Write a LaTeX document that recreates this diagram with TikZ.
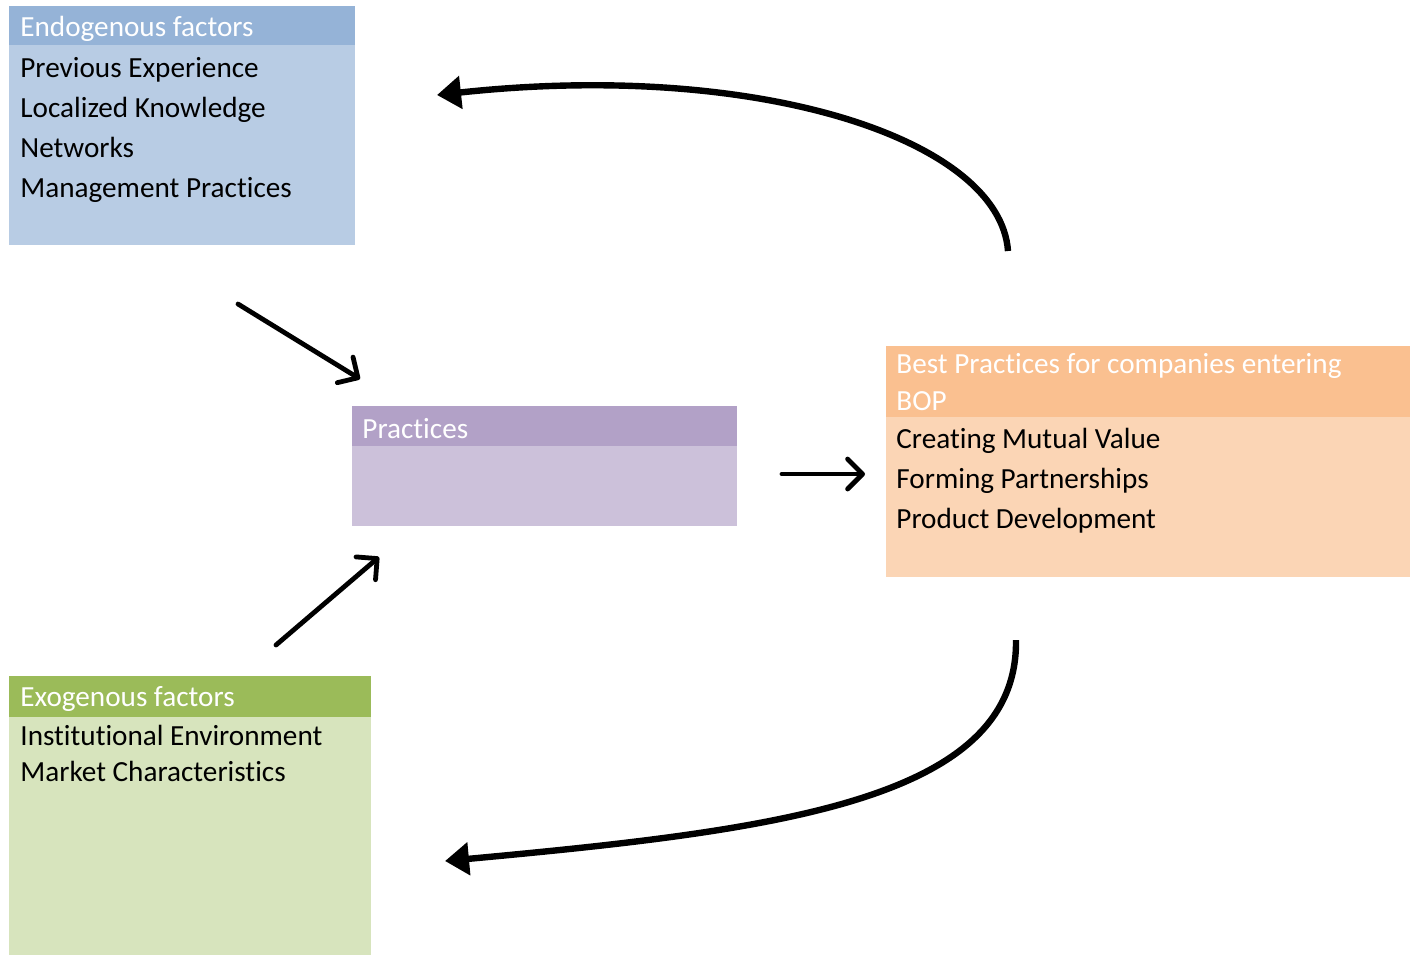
\documentclass[tikz,border=0pt]{standalone}
\usepackage{fontspec}
\setmainfont{Carlito}[Ligatures={NoCommon}]
\usetikzlibrary{arrows.meta}
\definecolor{bluehd}{HTML}{95B3D7}
\definecolor{bluebd}{HTML}{B8CCE4}
\definecolor{purphd}{HTML}{B2A1C7}
\definecolor{purpbd}{HTML}{CCC1DA}
\definecolor{oranhd}{HTML}{FAC090}
\definecolor{oranbd}{HTML}{FBD5B5}
\definecolor{greenhd}{HTML}{9BBB59}
\definecolor{greenbd}{HTML}{D7E4BD}
\tikzset{
  panel/.style={rectangle, inner sep=0pt, outer sep=0pt, draw=none, anchor=north west},
  hdtxt/.style={anchor=base west, inner sep=0pt, text=white, font=\fontsize{14.6}{18}\selectfont},
  rowtxt/.style={anchor=base west, inner sep=0pt, text=black, font=\fontsize{14.6}{18}\selectfont},
  straightarr/.style={line width=2.4pt, line cap=round, line join=round, -{Straight Barb[length=7.5pt, width=15pt, line cap=round, line join=round]}},
  curvearr/.style={line width=3.2pt, -{Triangle[length=12pt, width=16pt]}}
}
\begin{document}
\begin{tikzpicture}[x=0.5pt, y=-0.5pt]
\useasboundingbox (0,0) rectangle (1418,955);
% Endogenous
\node[panel, fill=bluebd, minimum width=173pt, minimum height=119.5pt] (endo) at (9,6) {};
\node[panel, fill=bluehd, minimum width=173pt, minimum height=19.5pt] (endohd) at (9,6) {};
\node[hdtxt] (endot) at (20,36) {Endogenous factors};
\node[rowtxt] (e1) at (20,77) {Previous Experience};
\node[rowtxt] (e2) at (20,117) {Localized Knowledge};
\node[rowtxt] (e3) at (20,157) {Networks};
\node[rowtxt] (e4) at (20,197) {Management Practices};
% Practices
\node[panel, fill=purpbd, minimum width=192.5pt, minimum height=60pt] (prac) at (352,406) {};
\node[panel, fill=purphd, minimum width=192.5pt, minimum height=20pt] (prachd) at (352,406) {};
\node[hdtxt] (pract) at (362,438) {Practices};
% Best practices
\node[panel, fill=oranbd, minimum width=262pt, minimum height=115.5pt] (best) at (886,346) {};
\node[panel, fill=oranhd, minimum width=262pt, minimum height=35.5pt] (besthd) at (886,346) {};
\node[hdtxt] (bestt1) at (896,373) {Best Practices for companies entering};
\node[hdtxt] (bestt2) at (896,410) {BOP};
\node[rowtxt] (b1) at (896,448) {Creating Mutual Value};
\node[rowtxt] (b2) at (896,488) {Forming Partnerships};
\node[rowtxt] (b3) at (896,528) {Product Development};
% Exogenous
\node[panel, fill=greenbd, minimum width=181pt, minimum height=139.5pt] (exo) at (9,676) {};
\node[panel, fill=greenhd, minimum width=181pt, minimum height=20.5pt] (exohd) at (9,676) {};
\node[hdtxt] (exot) at (20,706) {Exogenous factors};
\node[rowtxt] (x1) at (20,745) {Institutional Environment};
\node[rowtxt] (x2) at (20,781) {Market Characteristics};
% arrow endpoints
\coordinate (a1s) at (238,304);
\coordinate (a1e) at (360,379);
\coordinate (a2s) at (276,645);
\coordinate (a2e) at (379,557);
\coordinate (a3s) at (782,474);
\coordinate (a3e) at (865,474);
\coordinate (c1s) at (1008,251);
\coordinate (c1e) at (437,95);
\coordinate (c2s) at (1016,640);
\coordinate (c2e) at (445,861);
\draw[straightarr] (a1s) -- (a1e);
\draw[straightarr] (a2s) -- (a2e);
\draw[straightarr] (a3s) -- (a3e);
\draw[curvearr] (c1s) .. controls (1000,140) and (760,60) .. (c1e);
\draw[curvearr] (c2s) .. controls (1018,800) and (780,830) .. (c2e);
\end{tikzpicture}
\end{document}
